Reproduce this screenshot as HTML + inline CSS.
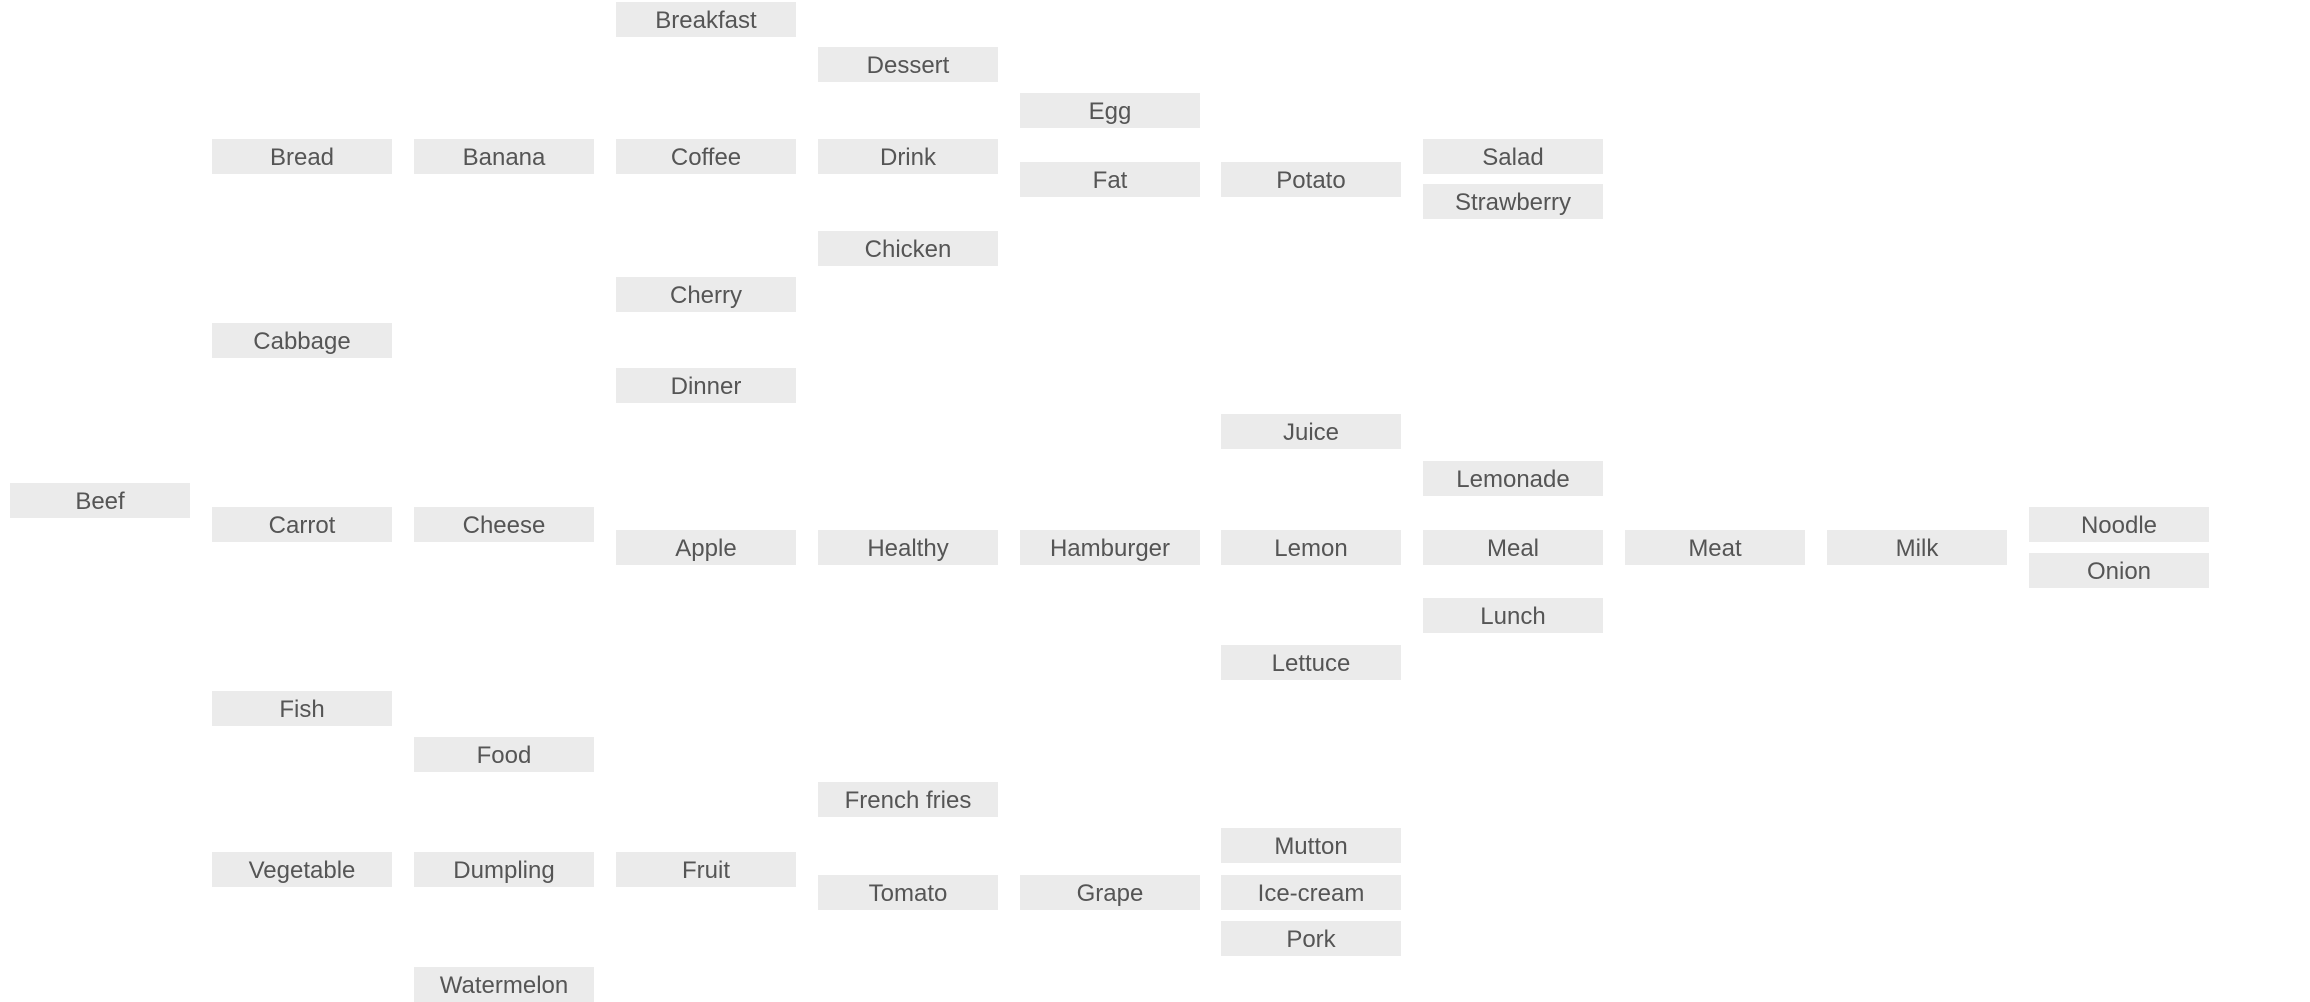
<!DOCTYPE html>
<html><head><meta charset="utf-8"><style>
html,body{margin:0;padding:0;background:#fff;width:2310px;height:1002px;overflow:hidden;position:relative}
.b{position:absolute;width:180px;height:33px;padding-top:2px;background:#ebebeb;color:#555;font-family:"Liberation Sans",sans-serif;font-size:24px;display:flex;align-items:center;justify-content:center;white-space:nowrap}
</style></head><body>
<div class="b" style="left:616px;top:2px">Breakfast</div>
<div class="b" style="left:818px;top:47px">Dessert</div>
<div class="b" style="left:1020px;top:93px">Egg</div>
<div class="b" style="left:212px;top:139px">Bread</div>
<div class="b" style="left:414px;top:139px">Banana</div>
<div class="b" style="left:616px;top:139px">Coffee</div>
<div class="b" style="left:818px;top:139px">Drink</div>
<div class="b" style="left:1423px;top:139px">Salad</div>
<div class="b" style="left:1020px;top:162px">Fat</div>
<div class="b" style="left:1221px;top:162px">Potato</div>
<div class="b" style="left:1423px;top:184px">Strawberry</div>
<div class="b" style="left:818px;top:231px">Chicken</div>
<div class="b" style="left:616px;top:277px">Cherry</div>
<div class="b" style="left:212px;top:323px">Cabbage</div>
<div class="b" style="left:616px;top:368px">Dinner</div>
<div class="b" style="left:1221px;top:414px">Juice</div>
<div class="b" style="left:1423px;top:461px">Lemonade</div>
<div class="b" style="left:10px;top:483px">Beef</div>
<div class="b" style="left:212px;top:507px">Carrot</div>
<div class="b" style="left:414px;top:507px">Cheese</div>
<div class="b" style="left:2029px;top:507px">Noodle</div>
<div class="b" style="left:616px;top:530px">Apple</div>
<div class="b" style="left:818px;top:530px">Healthy</div>
<div class="b" style="left:1020px;top:530px">Hamburger</div>
<div class="b" style="left:1221px;top:530px">Lemon</div>
<div class="b" style="left:1423px;top:530px">Meal</div>
<div class="b" style="left:1625px;top:530px">Meat</div>
<div class="b" style="left:1827px;top:530px">Milk</div>
<div class="b" style="left:2029px;top:553px">Onion</div>
<div class="b" style="left:1423px;top:598px">Lunch</div>
<div class="b" style="left:1221px;top:645px">Lettuce</div>
<div class="b" style="left:212px;top:691px">Fish</div>
<div class="b" style="left:414px;top:737px">Food</div>
<div class="b" style="left:818px;top:782px">French fries</div>
<div class="b" style="left:1221px;top:828px">Mutton</div>
<div class="b" style="left:212px;top:852px">Vegetable</div>
<div class="b" style="left:414px;top:852px">Dumpling</div>
<div class="b" style="left:616px;top:852px">Fruit</div>
<div class="b" style="left:818px;top:875px">Tomato</div>
<div class="b" style="left:1020px;top:875px">Grape</div>
<div class="b" style="left:1221px;top:875px">Ice-cream</div>
<div class="b" style="left:1221px;top:921px">Pork</div>
<div class="b" style="left:414px;top:967px">Watermelon</div>
</body></html>
